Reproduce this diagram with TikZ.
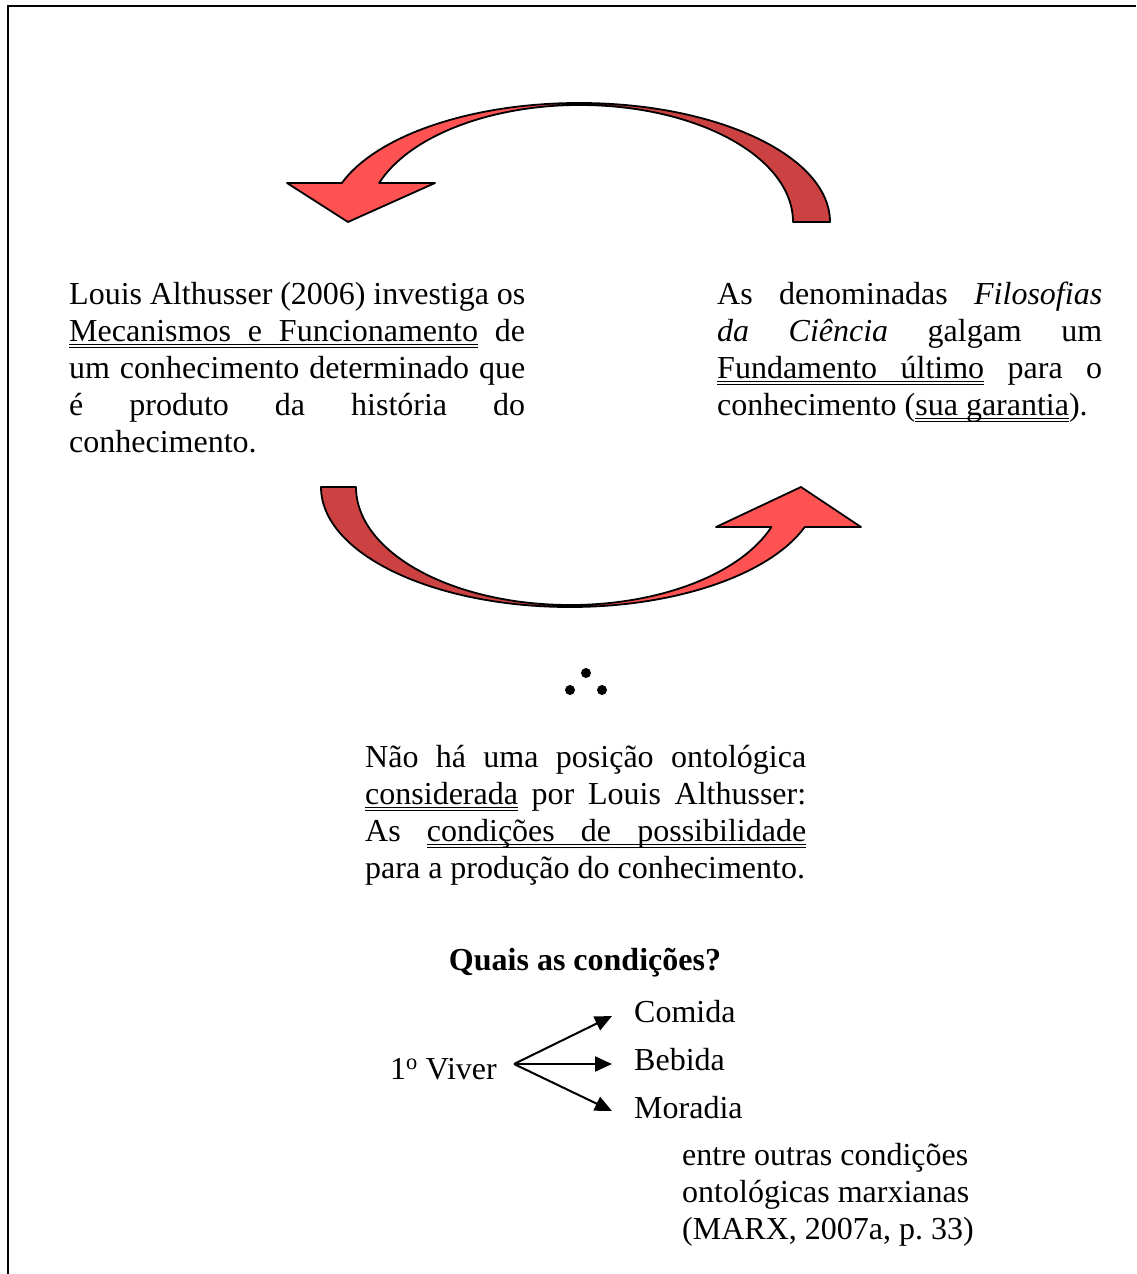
\documentclass[tikz,border=0pt]{standalone}
\usepackage{fontspec}
\setmainfont{Liberation Serif}
\usetikzlibrary{arrows.meta}
\newsavebox\ulbox
\newcommand\normsp{\spaceskip=0pt\xspaceskip=0pt\relax}
\newcommand\ulw[1]{\sbox\ulbox{#1}\rlap{\lower7pt\vbox{\hrule width\wd\ulbox height 1.1pt\kern2.2pt\hrule width\wd\ulbox height 1.1pt}}\usebox\ulbox}
\newcommand\ulsp{\xleaders\hbox{\lower7pt\vbox{\hrule width .5pt height 1.1pt\kern2.2pt\hrule width .5pt height 1.1pt}}\hskip\fontdimen2\font plus\fontdimen3\font minus\fontdimen4\font\relax}
\newcommand\jline[1]{\makebox[\linewidth][s]{\normsp #1}\\}
\definecolor{arrlight}{RGB}{255,82,82}
\definecolor{arrdark}{RGB}{204,66,66}
\tikzset{
  txt/.style={inner sep=0pt, font=\fontsize{32}{37}\selectfont\frenchspacing\normsp},
  para/.style={txt, anchor=base west},
  block/.style={para},
  bigarrow/.style={draw=black, line width=1.8pt, line join=round},
  conn/.style={line width=2pt, -{Triangle[length=17pt,width=15pt]}},
  dot/.style={fill=black}
}
\begin{document}
\begin{tikzpicture}[x=1pt,y=1pt]
\useasboundingbox (0,0) rectangle (1136,-1274);
\fill[white] (0,0) rectangle (1136,-1274);
\draw[line width=2pt] (8,-1274) -- (8,-6) -- (1136,-6);

% top curved arrow
\path[bigarrow, fill=arrdark] (830,-222) arc[start angle=0,end angle=90,x radius=251,y radius=119]
  -- (580,-105) arc[start angle=90,end angle=0,x radius=213,y radius=117] -- cycle;
\path[bigarrow, fill=arrlight] (579,-103) arc[start angle=90,end angle=160.9,x radius=251,y radius=119]
  -- (287,-183) -- (348,-222) -- (435,-183) -- (379.2,-182.9)
  arc[start angle=160.5,end angle=90,x radius=213,y radius=117] -- cycle;

% bottom curved arrow
\path[bigarrow, fill=arrdark] (321,-487) arc[start angle=180,end angle=270,x radius=249,y radius=120]
  -- (570,-605) arc[start angle=270,end angle=180,x radius=214,y radius=118] -- cycle;
\path[bigarrow, fill=arrlight] (570,-607) arc[start angle=270,end angle=340.5,x radius=249,y radius=120]
  -- (861,-527) -- (801,-487) -- (716,-527) -- (771.4,-527)
  arc[start angle=340.2,end angle=270,x radius=214,y radius=118] -- cycle;

% paragraphs
\node[block, text width=456pt] (left) at (69,-304)
  {\normsp\jline{Louis Althusser (2006) investiga os}
   \jline{\ulw{Mecanismos}\ulsp\ulw{e}\ulsp\ulw{Funcionamento} de}
   \jline{um conhecimento determinado que}
   \jline{é produto da história do}
   \mbox{conhecimento.}};
\node[block, text width=385pt] (right) at (717,-304)
  {\normsp\jline{As denominadas \textit{Filosofias}}
   \jline{\textit{da Ciência} galgam um}
   \jline{\ulw{Fundamento}\ulsp\ulw{último} para o}
   \mbox{conhecimento (\ulw{sua}\ulsp\ulw{garantia}).}};

% therefore
\fill[dot] (586,-673) circle (5);
\fill[dot] (570,-690) circle (5);
\fill[dot] (602,-690) circle (5);

\node[block, text width=441pt] (center) at (365,-767)
  {\normsp\jline{Não há uma posição ontológica}
   \jline{\ulw{considerada} por Louis Althusser:}
   \jline{As \ulw{condições}\ulsp\ulw{de}\ulsp\ulw{possibilidade}}
   \mbox{para a produção do conhecimento.}};

\node[txt, anchor=base] (quais) at (585,-970) {\normsp\textbf{Quais as condições?}};

\node[para] (viver) at (390,-1079) {\normsp 1\textsuperscript{o} Viver};
\node[para] (comida) at (634,-1022) {Comida};
\node[para] (bebida) at (634,-1070) {Bebida};
\node[para] (moradia) at (634,-1118) {Moradia};

\coordinate (v) at (514,-1064);
\coordinate (c1) at (612,-1016);
\coordinate (c2) at (612,-1064);
\coordinate (c3) at (612,-1111);
\draw[conn] (v) -- (c1);
\draw[conn] (v) -- (c2);
\draw[conn] (v) -- (c3);

\node[block, text width=320pt] (entre) at (682,-1165)
  {\normsp\mbox{entre outras condições}\\\mbox{ontológicas marxianas}\\\mbox{(MARX, 2007a, p. 33)}};
\end{tikzpicture}
\end{document}
